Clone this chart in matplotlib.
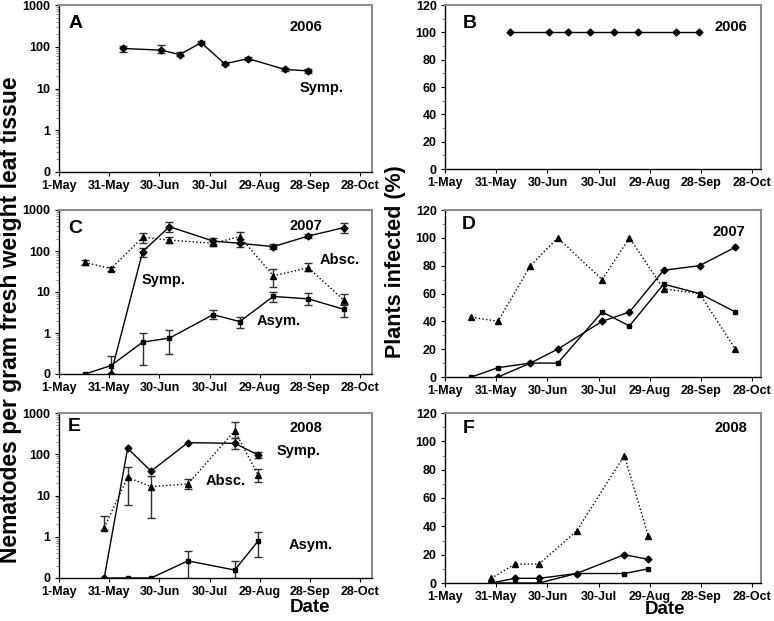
import numpy as np
import matplotlib as mpl
mpl.use('Agg')
import matplotlib.pyplot as plt
from matplotlib.ticker import FixedLocator, MultipleLocator

plt.rcParams['font.family'] = ['Liberation Sans', 'DejaVu Sans']
plt.rcParams['font.weight'] = 'bold'

# x positions are days after 1 May
date_ticks = [0, 30, 60, 90, 120, 150, 180]
date_labels = ['1-May', '31-May', '30-Jun', '30-Jul', '29-Aug', '28-Sep', '28-Oct']

# 2006
days_2006 = [38, 61, 72, 85, 99, 113, 135, 148.5]
symp_2006 = [91, 83, 65, 125, 39, 52, 28.6, 26.5]
symp_2006_lo = [76, 69, 59, 117, 36, 48, 26, 23]
symp_2006_hi = [104, 110, 73, 134, 42, 56, 31, 30]
pct_symp_2006 = [100, 100, 100, 100, 100, 100, 100, 100]

# 2007
days_2007 = [15.5, 31, 50, 66, 92, 108, 128, 149, 170]
symp_days_2007 = [31, 50, 66, 92, 108, 128, 149, 170]
symp_2007 = [0, 97, 392, 175, 154, 128, 232, 370]
symp_2007_lo = [0, 73, 297, 145, 125, 110, 205, 270]
symp_2007_hi = [0, 120, 516, 210, 195, 150, 265, 473]
absc_2007 = [53, 37, 215, 185, 154, 225, 25, 39, 6.4]
absc_2007_lo = [46, 33, 155, 155, 135, 154, 13.5, 32, 4.9]
absc_2007_hi = [61, 41, 270, 215, 175, 285, 36, 50, 8.8]
asym_2007 = [0, 0.16, 0.6, 0.75, 2.8, 1.9, 7.8, 6.8, 3.8]
asym_2007_lo = [0, 0.1, 0.17, 0.3, 2.2, 1.3, 5.6, 4.9, 2.5]
asym_2007_hi = [0, 0.27, 1.0, 1.17, 3.6, 2.5, 10, 9.3, 5.0]
pct_symp_2007 = [0, 10, 20, 40, 46.7, 76.7, 80, 93.3]
pct_absc_2007 = [43, 40, 80, 100, 70, 100, 63.3, 60, 20]
pct_asym_2007 = [0, 6.7, 10, 10, 46.7, 36.7, 66.7, 60, 46.7]

# 2008
days_2008 = [27, 41, 55, 77, 105, 119]
symp_2008 = [0, 139, 39, 191, 184, 96]
symp_2008_lo = [0, 0, 0, 0, 132, 80]
symp_2008_hi = [0, 0, 0, 0, 243, 115]
absc_2008 = [1.66, 27.5, 16.4, 19, 371, 31]
absc_2008_lo = [1.45, 5.9, 2.9, 14.4, 243, 21]
absc_2008_hi = [3.2, 50, 29.5, 24.5, 617, 44]
asym_2008 = [0, 0, 0, 0.26, 0.156, 0.79]
asym_2008_lo = [0, 0, 0, 0.1, 0.1, 0.32]
asym_2008_hi = [0, 0, 0, 0.45, 0.26, 1.28]
pct_symp_2008 = [0, 3.3, 3.3, 6.7, 20, 16.7]
pct_absc_2008 = [3.3, 13.3, 13.3, 36.7, 90, 33.3]
pct_asym_2008 = [0, 0, 0, 6.7, 6.7, 10]

W, H = 774, 621
FLOOR = 0.1  # zero counts drawn at the bottom of the log axis ("0")
ERR_COLOR = '#303030'


def rect(l, r, t, b):
    return [l / W, 1 - b / H, (r - l) / W, (b - t) / H]


def style_axes(ax, log, xmax):
    ax.set_xlim(0, xmax)
    ax.xaxis.set_major_locator(FixedLocator(date_ticks))
    ax.set_xticklabels(date_labels)
    if log:
        ax.set_yscale('log')
        ax.set_ylim(0.1, 1000)
        ax.set_yticks([0.1, 1, 10, 100, 1000])
        ax.set_yticklabels(['0', '1', '10', '100', '1000'])
    else:
        ax.set_ylim(0, 120)
        ax.yaxis.set_major_locator(MultipleLocator(20))
        ax.yaxis.set_minor_locator(MultipleLocator(10))
    for s in ['left', 'bottom']:
        ax.spines[s].set_color('black')
        ax.spines[s].set_linewidth(1.0)
    for s in ['top', 'right']:
        ax.spines[s].set_color('#8c8c8c')
        ax.spines[s].set_linewidth(1.5)
    ax.tick_params(axis='both', which='major', length=3, width=0.8, labelsize=9, pad=3)
    ax.tick_params(axis='y', which='minor', length=2, width=0.6, color='#777777')
    ax.tick_params(axis='x', which='minor', length=0)
    for lab in ax.get_xticklabels() + ax.get_yticklabels():
        lab.set_fontweight('bold')


def count_series(ax, days, vals, lo, hi, marker, ms, ls):
    v = np.maximum(np.array(vals, float), FLOOR)
    ax.plot(days, v, color='black', marker=marker, ms=ms, lw=1.0, ls=ls, zorder=3)
    lo = np.array(lo, float)
    hi = np.array(hi, float)
    m = hi > lo
    if m.any():
        d = np.array(days, float)[m]
        yerr = [v[m] - np.maximum(lo[m], FLOOR), hi[m] - v[m]]
        ax.errorbar(d, v[m], yerr=yerr, fmt='none', ecolor=ERR_COLOR,
                    elinewidth=1.0, capsize=3, capthick=1.0, zorder=2)


def pct_series(ax, days, vals, marker, ms, ls):
    ax.plot(days, vals, color='black', marker=marker, ms=ms, lw=1.0, ls=ls, zorder=3)


def label(ax, x, y, s, size=10.5, ha='center'):
    ax.text(x, y, s, transform=ax.transAxes, ha=ha, va='center',
            fontsize=size, fontweight='bold')


def main():
    fig = plt.figure(figsize=(W / 100, H / 100), dpi=100)

    axA = fig.add_axes(rect(59, 372, 5, 172))
    axB = fig.add_axes(rect(445, 761, 5, 169))
    axC = fig.add_axes(rect(59, 372, 210, 374))
    axD = fig.add_axes(rect(445, 761, 210, 377))
    axE = fig.add_axes(rect(59, 372, 413, 578))
    axF = fig.add_axes(rect(445, 761, 413, 583))

    # A: 2006 nematode counts
    count_series(axA, days_2006, symp_2006, symp_2006_lo, symp_2006_hi, 'D', 3.5, '-')
    # B: 2006 percentage infected
    pct_series(axB, days_2006, pct_symp_2006, 'D', 3.5, '-')

    # C: 2007 counts
    count_series(axC, days_2007, asym_2007, asym_2007_lo, asym_2007_hi, 's', 3.5, '-')
    count_series(axC, days_2007, absc_2007, absc_2007_lo, absc_2007_hi, '^', 4.5, ':')
    count_series(axC, symp_days_2007, symp_2007, symp_2007_lo, symp_2007_hi, 'D', 3.5, '-')
    # D: 2007 percentages
    pct_series(axD, days_2007, pct_absc_2007, '^', 4.5, ':')
    pct_series(axD, days_2007, pct_asym_2007, 's', 3.5, '-')
    pct_series(axD, symp_days_2007, pct_symp_2007, 'D', 3.5, '-')

    # E: 2008 counts
    count_series(axE, days_2008, asym_2008, asym_2008_lo, asym_2008_hi, 's', 3.5, '-')
    count_series(axE, days_2008, absc_2008, absc_2008_lo, absc_2008_hi, '^', 4.5, ':')
    count_series(axE, days_2008, symp_2008, symp_2008_lo, symp_2008_hi, 'D', 3.5, '-')
    # F: 2008 percentages
    pct_series(axF, days_2008, pct_absc_2008, '^', 4.5, ':')
    pct_series(axF, days_2008, pct_asym_2008, 's', 3.5, '-')
    pct_series(axF, days_2008, pct_symp_2008, 'D', 3.5, '-')

    style_axes(axA, True, 187)
    style_axes(axC, True, 187)
    style_axes(axE, True, 187)
    style_axes(axB, False, 185)
    style_axes(axD, False, 185)
    style_axes(axF, False, 185)

    # panel letters and year tags
    label(axA, 0.029, 0.892, 'A', 14, 'left')
    label(axA, 0.79, 0.868, '2006')
    label(axA, 0.84, 0.503, 'Symp.')
    label(axB, 0.056, 0.89, 'B', 14, 'left')
    label(axB, 0.905, 0.866, '2006')

    label(axC, 0.029, 0.89, 'C', 14, 'left')
    label(axC, 0.79, 0.90, '2007')
    label(axC, 0.335, 0.573, 'Symp.')
    label(axC, 0.898, 0.695, 'Absc.')
    label(axC, 0.703, 0.325, 'Asym.')
    label(axD, 0.053, 0.916, 'D', 14, 'left')
    label(axD, 0.899, 0.87, '2007')

    label(axE, 0.029, 0.917, 'E', 14, 'left')
    label(axE, 0.79, 0.907, '2008')
    label(axE, 0.767, 0.77, 'Symp.')
    label(axE, 0.534, 0.588, 'Absc.')
    label(axE, 0.805, 0.20, 'Asym.')
    label(axF, 0.056, 0.909, 'F', 14, 'left')
    label(axF, 0.905, 0.909, '2008')

    # shared axis titles
    fig.text(11 / W, 1 - 320 / H, 'Nematodes per gram fresh weight leaf tissue',
             rotation=90, ha='center', va='center', fontsize=16.5, fontweight='bold')
    fig.text(395 / W, 1 - 262 / H, 'Plants infected (%)',
             rotation=90, ha='center', va='center', fontsize=15.5, fontweight='bold')
    fig.text(310 / W, 1 - 608 / H, 'Date', ha='center', va='center',
             fontsize=13.5, fontweight='bold')
    fig.text(665 / W, 1 - 610 / H, 'Date', ha='center', va='center',
             fontsize=13.5, fontweight='bold')

    fig.savefig('out.png', dpi=100)


if __name__ == '__main__':
    main()
